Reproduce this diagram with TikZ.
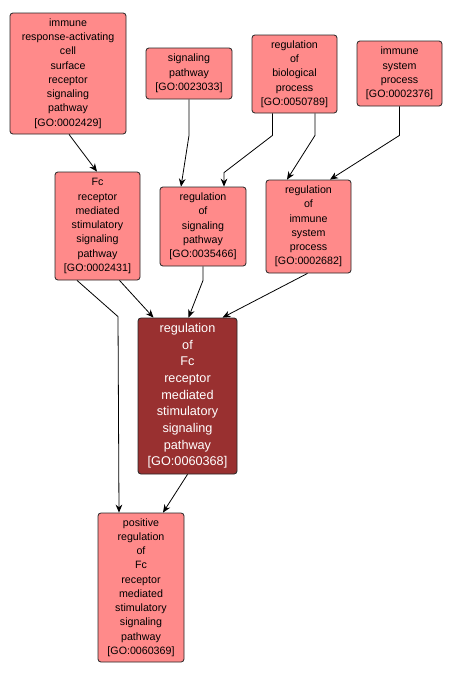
\documentclass[tikz,border=0pt]{standalone}
\usepackage{fontspec}
\setmainfont{Liberation Sans}
\usepackage{xcolor}
\usepackage{tikz}
\usetikzlibrary{%
  arrows.meta,
  calc}
\definecolor{gosalmon}{RGB}{255,138,138}
\definecolor{godark}{RGB}{153,48,48}
\tikzset{
  %% Plain GO term boxes
  goterm/.style={
    rectangle, rounded corners=2.2pt,
    draw=black!85, fill=gosalmon, line width=0.6pt,
    align=center, inner sep=0pt, text=black,
    font=\fontsize{8}{10.7}\selectfont},
  %% Queried term
  focusterm/.style={
    goterm, fill=godark, text=white,
    font=\fontsize{9.5}{12.5}\selectfont},
  %% Arrows
  arrow/.style={-{Stealth[length=6pt,width=5pt]}, line width=0.6pt, black},
}
\begin{document}
\begin{tikzpicture}[x=0.75pt,y=-0.75pt]
  \useasboundingbox (0,0) rectangle (453,678);

  %% Row 1: top level terms
  \node[goterm, minimum width=116*0.75pt, minimum height=121*0.75pt] (irac) at (68,73.5)
    {immune\\ response-activating\\ cell\\ surface\\ receptor\\ signaling\\ pathway\\ {[GO:0002429]}};
  \node[goterm, minimum width=86*0.75pt, minimum height=51*0.75pt] (sigpw) at (189,73.5)
    {signaling\\ pathway\\ {[GO:0023033]}};
  \node[goterm, minimum width=85*0.75pt, minimum height=78*0.75pt] (regbio) at (294.5,74)
    {regulation\\ of\\ biological\\ process\\ {[GO:0050789]}};
  \node[goterm, minimum width=85*0.75pt, minimum height=65*0.75pt] (immsys) at (399.5,73.5)
    {immune\\ system\\ process\\ {[GO:0002376]}};

  %% Row 2
  \node[goterm, minimum width=85*0.75pt, minimum height=108*0.75pt] (fcpw) at (97.5,226)
    {Fc\\ receptor\\ mediated\\ stimulatory\\ signaling\\ pathway\\ {[GO:0002431]}};
  \node[goterm, minimum width=86*0.75pt, minimum height=79*0.75pt] (regsig) at (203,226.5)
    {regulation\\ of\\ signaling\\ pathway\\ {[GO:0035466]}};
  \node[goterm, minimum width=85*0.75pt, minimum height=93*0.75pt] (regimm) at (308.5,226.5)
    {regulation\\ of\\ immune\\ system\\ process\\ {[GO:0002682]}};

  %% Row 3: queried term
  \node[focusterm, minimum width=99*0.75pt, minimum height=156*0.75pt] (regfc) at (187.5,396)
    {regulation\\ of\\ Fc\\ receptor\\ mediated\\ stimulatory\\ signaling\\ pathway\\ {[GO:0060368]}};

  %% Row 4
  \node[goterm, minimum width=86*0.75pt, minimum height=149*0.75pt] (posfc) at (141,587.5)
    {positive\\ regulation\\ of\\ Fc\\ receptor\\ mediated\\ stimulatory\\ signaling\\ pathway\\ {[GO:0060369]}};

  %% Edges
  \draw[arrow] ($(irac.south)+(1,0)$) -- ($(fcpw.north)+(-0.5,0)$);
  \draw[arrow] (sigpw.south) -- ++(0,36) -- ($(regsig.north)+(-22,0)$);
  \draw[arrow] ($(regbio.south)+(-22,0)$) -- ++(0,22) -- ($(regsig.north)+(21,-14)$)
    -- ($(regsig.north)+(21,0)$);
  \draw[arrow] ($(regbio.south)+(20.5,0)$) -- ++(0,22) -- ($(regimm.north)+(-21.5,0)$);
  \draw[arrow] (immsys.south) -- ++(0,29) -- ($(regimm.north)+(21.5,0)$);
  \draw[arrow] ($(fcpw.south)+(22,0)$) -- ($(regfc.north)+(-34,0)$);
  \draw[arrow] ($(fcpw.south)+(-20.5,0)$) -- ($(posfc.north)+(-23,-196)$)
    -- ($(posfc.north)+(-22,0)$);
  \draw[arrow] (regsig.south) -- ++(0,14) -- ($(regfc.north)+(1,0)$);
  \draw[arrow] ($(regimm.south)+(-1,0)$) -- ($(regfc.north)+(35,0)$);
  \draw[arrow] (regfc.south) -- ($(posfc.north)+(22,0)$);

\end{tikzpicture}
\end{document}
